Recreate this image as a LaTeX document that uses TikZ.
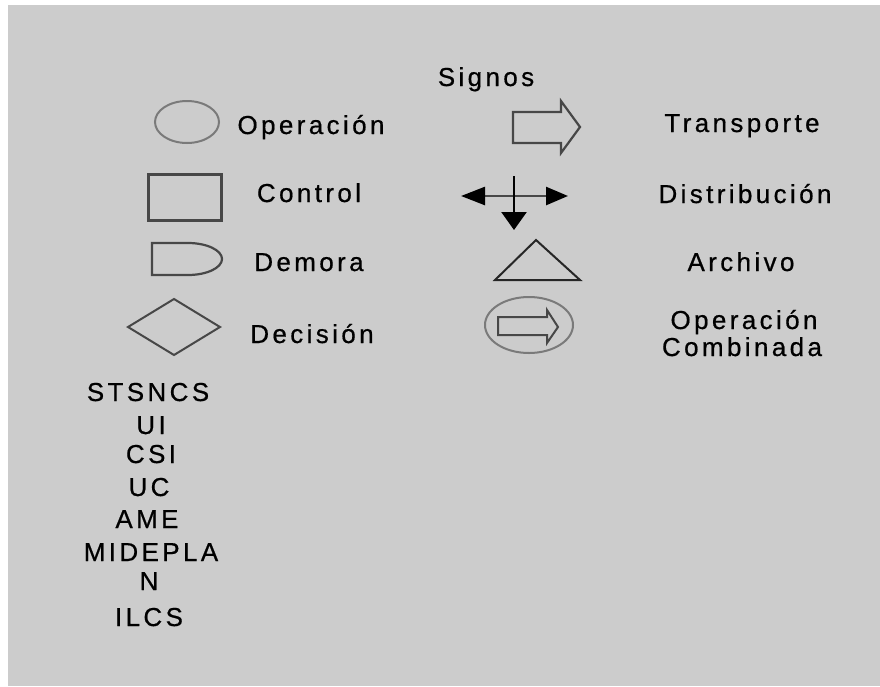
\documentclass[tikz,border=0pt]{standalone}
\usepackage{fontspec}
\setmainfont{Liberation Sans}
\newfontfamily\lblfont[LetterSpace=13,FakeBold=0.6]{Liberation Sans}
\usetikzlibrary{arrows.meta}
\definecolor{bgc}{HTML}{CCCCCC}
\definecolor{symgray}{HTML}{7A7A7A}
\definecolor{symdark}{HTML}{474747}
\begin{document}
\begin{tikzpicture}[x=1pt,y=-1pt,
  lbl/.style={font=\lblfont\fontsize{26}{28}\selectfont, inner sep=0pt, text=black, anchor=base},
  soft/.style={draw=symgray, line width=2pt},
  hard/.style={draw=symdark, line width=2.5pt, line join=miter}]
\useasboundingbox (0,0) rectangle (880,686);
\fill[white] (0,0) rectangle (880,686);
\fill[bgc] (8,5) rectangle (880,686);

% title
\node[lbl] (signos) at (486,86) {Signos};

% left column symbols
\draw[soft] (187,122) ellipse[x radius=32, y radius=21];
\node[lbl] (operacion) at (311,134) {Operación};

\draw[hard, line width=3pt] (148.5,174.5) rectangle (221.5,220.5);
\node[lbl] (control) at (309,202) {Control};

\draw[hard, line width=2.2pt] (188,243) -- (152,243) -- (152,275) -- (188,275)
  arc[start angle=90, end angle=-90, x radius=34, y radius=16] -- cycle;
\node[lbl] (demora) at (309,271) {Demora};

\draw[hard, line width=2pt] (174,299) -- (220,327) -- (174,355) -- (128,327) -- cycle;
\node[lbl] (decision) at (312,343) {Decisión};

% right column symbols
\draw[hard, line width=2.2pt] (513,112) -- (561,112) -- (561,101) -- (580,127)
  -- (561,153) -- (561,143) -- (513,143) -- cycle;
\node[lbl] (transporte) at (742,132) {Transporte};

\coordinate (dl) at (461,196);
\coordinate (dr) at (568,196);
\coordinate (dt) at (514,176);
\coordinate (db) at (514,230);
\draw[draw=symdark, line width=2.5pt,
  {Triangle[length=24pt,width=18pt,color=black]}-{Triangle[length=22pt,width=18pt,color=black]}] (dl) -- (dr);
\draw[draw=black, line width=2.5pt, -{Triangle[length=18pt,width=25pt]}] (dt) -- (db);
\node[lbl] (distribucion) at (745,203) {Distribución};

\draw[draw=black!85, line width=2pt, line join=miter] (495,280) -- (536,240) -- (580,280) -- cycle;
\node[lbl] (archivo) at (741,271) {Archivo};

\draw[soft] (529,325) ellipse[x radius=44, y radius=28];
\draw[hard, line width=2pt] (498,317) -- (547,317) -- (547,310) -- (558,327)
  -- (547,343) -- (547,335) -- (498,335) -- cycle;
\node[lbl] (opc1) at (744,329) {Operación};
\node[lbl] (opc2) at (742,356) {Combinada};

% institution list
\node[lbl] (i1) at (148,401) {STSNCS};
\node[lbl] (i2) at (151,434) {UI};
\node[lbl] (i3) at (151,463) {CSI};
\node[lbl] (i4) at (149,496) {UC};
\node[lbl] (i5) at (147,528) {AME};
\node[lbl] (i6) at (151,561) {MIDEPLA};
\node[lbl] (i7) at (149,590) {N};
\node[lbl] (i8) at (149,626) {ILCS};
\end{tikzpicture}
\end{document}
